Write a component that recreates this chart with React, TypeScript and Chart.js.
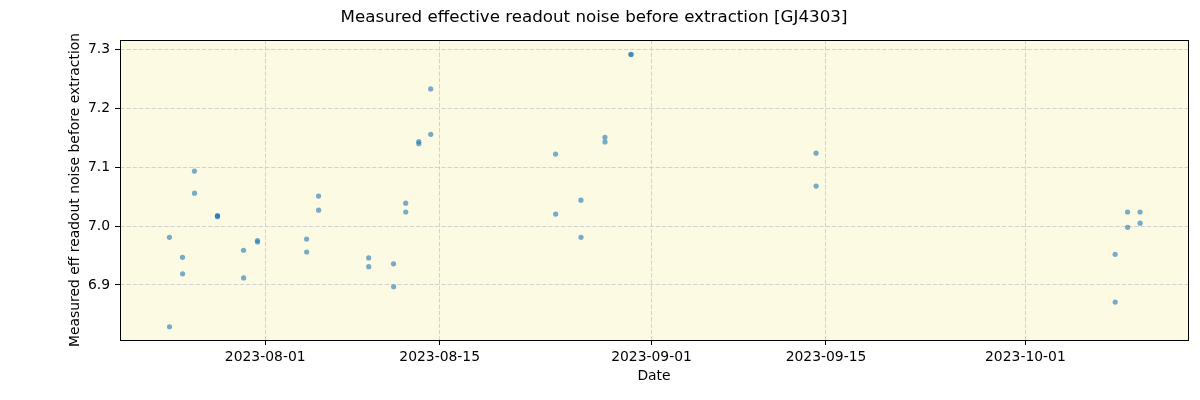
import React, { useEffect, useRef } from "react";
import { Chart, registerables } from "chart.js";

Chart.register(...registerables);

const TITLE = "Measured effective readout noise before extraction [GJ4303]";
const X_LABEL = "Date";
const Y_LABEL = "Measured eff readout noise before extraction";

// Observation timestamps (UTC) and measured values
const obsDates: string[] = [
  "2023-07-24T07:30", "2023-07-24T07:40",
  "2023-07-25T08:40", "2023-07-25T08:50",
  "2023-07-26T07:40", "2023-07-26T07:50",
  "2023-07-28T04:00", "2023-07-28T04:05", "2023-07-28T04:10",
  "2023-07-30T06:15", "2023-07-30T06:25",
  "2023-07-31T09:00", "2023-07-31T09:10",
  "2023-08-04T07:40", "2023-08-04T07:50",
  "2023-08-05T06:40", "2023-08-05T06:50",
  "2023-08-09T07:10", "2023-08-09T07:20",
  "2023-08-11T07:10", "2023-08-11T07:20",
  "2023-08-12T06:30", "2023-08-12T06:40",
  "2023-08-13T07:40", "2023-08-13T07:50",
  "2023-08-14T06:40", "2023-08-14T06:50",
  "2023-08-24T07:10", "2023-08-24T07:20",
  "2023-08-26T08:00", "2023-08-26T08:10",
  "2023-08-28T06:15", "2023-08-28T06:25",
  "2023-08-30T08:25", "2023-08-30T08:30",
  "2023-09-14T04:50", "2023-09-14T05:00",
  "2023-10-08T04:50", "2023-10-08T05:00",
  "2023-10-09T04:50", "2023-10-09T05:00",
  "2023-10-10T04:50", "2023-10-10T05:00",
];

const noiseValues: number[] = [
  6.981, 6.829,
  6.947, 6.919,
  7.0935, 7.056,
  7.018, 7.016, 7.017,
  6.959, 6.912,
  6.9755, 6.973,
  6.978, 6.956,
  7.051, 7.027,
  6.946, 6.931,
  6.936, 6.897,
  7.039, 7.024,
  7.1434, 7.140,
  7.233, 7.156,
  7.1224, 7.0204,
  7.044, 6.981,
  7.151, 7.143,
  7.2915, 7.292,
  7.124, 7.068,
  6.952, 6.871,
  7.024, 6.998,
  7.024, 7.005,
];

const xTickDates: string[] = ["2023-08-01", "2023-08-15", "2023-09-01", "2023-09-15", "2023-10-01"];
const yTickValues: number[] = [6.9, 7.0, 7.1, 7.2, 7.3];

const X_MIN_DATE = "2023-07-20T08:20";
const X_MAX_DATE = "2023-10-14T01:10";
const Y_MIN = 6.8065;
const Y_MAX = 7.3162;

const toMs = (s: string) => Date.parse(s.length === 10 ? s + "T00:00:00Z" : s + ":00Z");
const fmtDate = (ms: number) => {
  const d = new Date(ms);
  const p = (n: number) => String(n).padStart(2, "0");
  return `${d.getUTCFullYear()}-${p(d.getUTCMonth() + 1)}-${p(d.getUTCDate())}`;
};

const FONT = "'DejaVu Sans', sans-serif";

const framePlugin = {
  id: "frame",
  beforeDraw(chart: any) {
    const { ctx, chartArea: a } = chart;
    ctx.save();
    ctx.fillStyle = "#fcfae3";
    ctx.fillRect(a.left, a.top, a.right - a.left, a.bottom - a.top);
    ctx.restore();
  },
  afterDatasetsDraw(chart: any) {
    const { ctx, chartArea: a } = chart;
    ctx.save();
    ctx.strokeStyle = "#000";
    ctx.lineWidth = 1;
    ctx.setLineDash([]);
    ctx.strokeRect(Math.round(a.left) + 0.5, Math.round(a.top) + 0.5, Math.round(a.right - a.left), Math.round(a.bottom - a.top));
    ctx.restore();
  },
};

export default function App() {
  const ref = useRef<HTMLCanvasElement | null>(null);

  useEffect(() => {
    if (!ref.current) return;
    const data = obsDates.map((d, i) => ({ x: toMs(d), y: noiseValues[i] }));
    const chart = new Chart(ref.current, {
      type: "scatter",
      data: {
        datasets: [
          {
            data,
            backgroundColor: "rgba(31,119,180,0.6)",
            borderColor: "rgba(31,119,180,0.6)",
            borderWidth: 0,
            pointRadius: 2.6,
            pointHoverRadius: 2.6,
          },
        ],
      },
      plugins: [framePlugin],
      options: {
        animation: false,
        responsive: false,
        maintainAspectRatio: false,
        layout: { padding: { left: 0, right: 12, top: 0, bottom: 0 } },
        plugins: {
          legend: { display: false },
          tooltip: { enabled: false },
          title: {
            display: true,
            text: TITLE,
            color: "#000",
            font: { family: FONT, size: 16.7, weight: "normal", lineHeight: 1 },
            padding: { top: 9, bottom: 14.3 },
          },
        },
        scales: {
          x: {
            type: "linear",
            min: toMs(X_MIN_DATE),
            max: toMs(X_MAX_DATE),
            afterBuildTicks: (scale: any) => {
              scale.ticks = xTickDates.map((d) => ({ value: toMs(d) }));
            },
            afterFit: (scale: any) => {
              scale.height = 60;
            },
            ticks: {
              callback: (v: any) => fmtDate(Number(v)),
              color: "#000",
              font: { family: FONT, size: 13.9 },
              padding: 4,
              maxRotation: 0,
              autoSkip: false,
            },
            grid: {
              color: "#d2d2d2",
              lineWidth: 1,
              tickColor: "#000",
              tickLength: 5,
              tickWidth: 1,
            },
            border: { display: false, dash: [4.4, 1.9] },
            title: {
              display: true,
              text: X_LABEL,
              color: "#000",
              font: { family: FONT, size: 13.9 },
              padding: { top: 0, bottom: 15.7 },
            },
          },
          y: {
            type: "linear",
            min: Y_MIN,
            max: Y_MAX,
            afterBuildTicks: (scale: any) => {
              scale.ticks = yTickValues.map((v) => ({ value: v }));
            },
            afterFit: (scale: any) => {
              scale.width = 120;
            },
            ticks: {
              callback: (v: any) => Number(v).toFixed(1),
              color: "#000",
              font: { family: FONT, size: 13.9 },
              padding: 5,
            },
            grid: {
              color: "#d2d2d2",
              lineWidth: 1,
              tickColor: "#000",
              tickLength: 5,
              tickWidth: 1,
            },
            border: { display: false, dash: [4.4, 1.9] },
            title: {
              display: true,
              text: Y_LABEL,
              color: "#000",
              font: { family: FONT, size: 13.9 },
              padding: { top: 66.7, bottom: 0 },
            },
          },
        },
      },
    } as any);
    return () => chart.destroy();
  }, []);

  return (
    <div style={{ position: "fixed", left: 0, top: 0, width: 1200, height: 400, background: "#fff" }}>
      <canvas ref={ref} width={1200} height={400} style={{ width: 1200, height: 400, display: "block" }} />
    </div>
  );
}
